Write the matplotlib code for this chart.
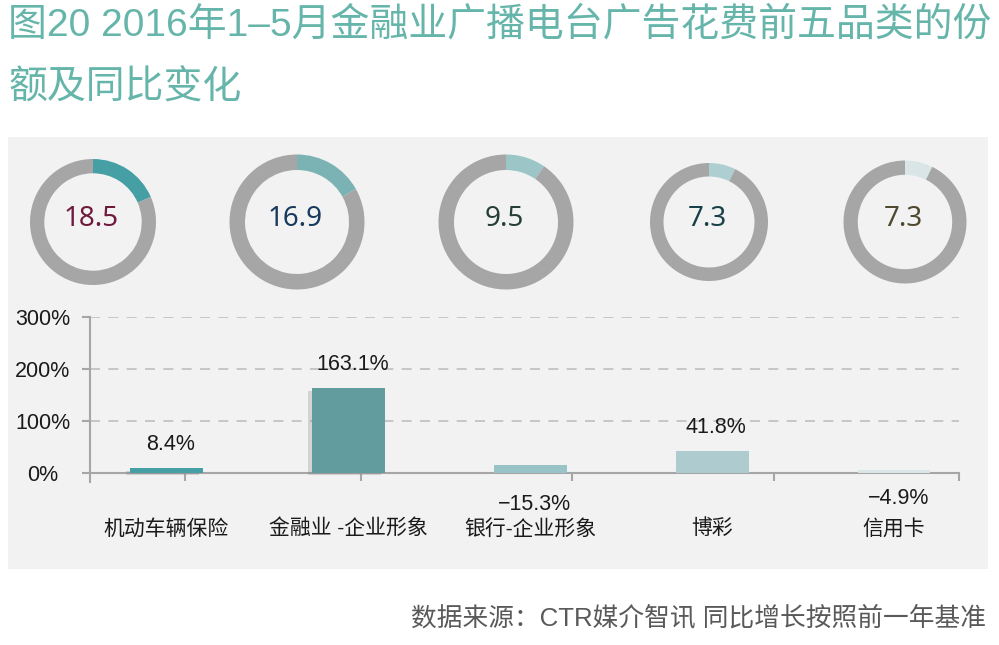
import numpy as np
import matplotlib
matplotlib.use("Agg")
import matplotlib.pyplot as plt
from matplotlib.patches import Rectangle
import matplotlib.patheffects as pe

# ---------------- data ----------------
categories = ["机动车辆保险", "金融业 -企业形象", "银行-企业形象", "博彩", "信用卡"]
share = [18.5, 16.9, 9.5, 7.3, 7.3]          # 份额 (%)
yoy = [8.4, 163.1, -15.3, 41.8, -4.9]         # 同比变化 (%)
yticks = [0, 100, 200, 300]
ytick_labels = ["0%", "100%", "200%", "300%"]
title = "图20 2016年1–5月金融业广播电台广告花费前五品类的份\n额及同比变化"
source = "数据来源：CTR媒介智讯 同比增长按照前一年基准"

# ---------------- styles ----------------
seg_colors = ["#469fa5", "#7bb3b5", "#9cc5c8", "#aecfd1", "#dae5e7"]
bar_colors = ["#469fa5", "#639c9e", "#98c4c8", "#aecccf", "#dae5e7"]
num_colors = ["#6e1a3c", "#173a5e", "#263f35", "#17404a", "#4f4930"]
ring_gray = "#a6a6a6"
axis_gray = "#a6a6a6"
mixed = ["Liberation Sans", "Noto Sans CJK SC", "DejaVu Sans"]

W, H = 999, 645
fig = plt.figure(figsize=(W / 100, H / 100), dpi=100)
fig.patch.set_facecolor("white")

# panel background
fig.patches.append(Rectangle((8 / W, (H - 569) / H), 980 / W, 432 / H,
                             transform=fig.transFigure, facecolor="#f2f2f2",
                             edgecolor="none", zorder=0))

# title & source
title_y = [25, 88]
for line, ty in zip(title.split("\n"), title_y):
    fig.text(8 / W, 1 - ty / H, line, ha="left", va="center", fontsize=28,
             color="#66b5aa", family=mixed, fontweight="light")
fig.text(986 / W, 1 - 618 / H, source, ha="right", va="center", fontsize=18.5,
         color="#595959", family=mixed)

# ---------------- donuts (pixel-coordinate overlay) ----------------
axd = fig.add_axes([0, 0, 1, 1], zorder=2)
axd.patch.set_alpha(0)
donut_cx = [93, 297, 506, 709, 905]
donut_cy = 222
donut_r = [63, 67.5, 67.5, 59, 61.5]
donut_w = [14.3, 15.5, 15.5, 13.5, 14.3]
for i, v in enumerate(share):
    axd.pie([v, 100 - v], center=(donut_cx[i], H - donut_cy), radius=donut_r[i],
            startangle=90, counterclock=False,
            colors=[seg_colors[i], ring_gray],
            wedgeprops=dict(width=donut_w[i], edgecolor="none"))
    axd.text(donut_cx[i] - 2, H - donut_cy + 3, f"{v}", ha="center", va="center",
             fontsize=20, color=num_colors[i],
             family=["Noto Sans", "DejaVu Sans"])
axd.set_xlim(0, W)
axd.set_ylim(0, H)
axd.set_axis_off()

# ---------------- bar chart ----------------
top_px, bot_px = 316.7, 481.5
left_px, right_px = 90, 959
ax = fig.add_axes([left_px / W, (H - bot_px) / H, (right_px - left_px) / W,
                   (bot_px - top_px) / H], zorder=3)
ax.patch.set_alpha(0)
x = np.arange(len(categories))
ax.set_xlim(-0.42, 4.357)
ax.set_ylim(-17, 300)

bars = ax.bar(x, np.abs(yoy), width=0.4, color=bar_colors, zorder=3)
for b in list(bars)[:2]:
    b.set_path_effects([pe.SimplePatchShadow(offset=(-3, -2), shadow_rgbFace="#7a7a7a",
                                             alpha=0.25), pe.Normal()])

for xi, v in zip(x, yoy):
    lab = f"{v:.1f}%".replace("-", "\u2212")
    ax.annotate(lab, xy=(xi, v), xytext=(3, 17 if v > 0 else -17),
                textcoords="offset points", ha="center", va="center",
                fontsize=15.5, color="#1a1a1a",
                family=["Liberation Sans", "DejaVu Sans"])

for s in ["top", "right"]:
    ax.spines[s].set_visible(False)
ax.spines["left"].set_color(axis_gray)
ax.spines["left"].set_linewidth(1.5)
ax.spines["bottom"].set_position(("data", 0))
ax.spines["bottom"].set_color(axis_gray)
ax.spines["bottom"].set_linewidth(1.5)

ax.set_yticks(yticks)
ax.set_yticklabels(ytick_labels, fontsize=15.5, color="#1a1a1a",
                   family=["Liberation Sans", "DejaVu Sans"])
ax.tick_params(axis="y", direction="out", length=6, width=1.5, color=axis_gray, pad=28)
for t in ax.get_yticklabels():
    t.set_ha("center")

ax.set_xticks(x)
ax.set_xticklabels(categories, fontsize=15, color="#1a1a1a", family=mixed)
ax.tick_params(axis="x", which="major", length=0, pad=33)
ax.set_xticks([0.1, 1.07, 2.23, 3.34, 4.357], minor=True)
ax.tick_params(axis="x", which="minor", direction="out", length=6, width=1.5,
               color=axis_gray)

ax.yaxis.grid(True, linestyle=(0, (6, 5)), color="#bfbfbf", linewidth=1.2, zorder=1)
ax.set_axisbelow(True)

fig.savefig("out.png", dpi=100, facecolor="white")
